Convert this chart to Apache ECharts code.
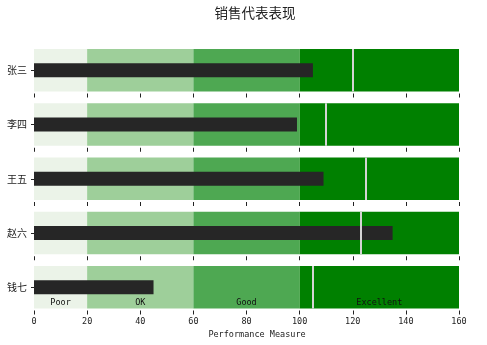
<!DOCTYPE html>
<html>
<head>
<meta charset="utf-8">
<script src="https://cdn.jsdelivr.net/npm/echarts@6/dist/echarts.min.js"></script>
<style>
  html, body { margin: 0; padding: 0; background: #fff; }
  #chart { width: 487px; height: 345px; }
</style>
</head>
<body>
<div id="chart"></div>
<script>
// Sales reps, their measured performance and their targets
const reps = ['张三', '李四', '王五', '赵六', '钱七'];
const actual = [105, 99, 109, 135, 45];
const target = [120, 110, 125, 123, 105];

// Qualitative bands shared by every row
const bandNames = ['Poor', 'OK', 'Good', 'Excellent'];
const bandEdges = [0, 20, 60, 100, 160];
const bandColors = ['#ebf3e8', '#9ecf9a', '#4ea852', '#008000'];

const xTicks = { min: 0, max: 160, interval: 20 };

const chart = echarts.init(document.getElementById('chart'), null, { renderer: 'canvas' });

const monoFont = '"DejaVu Sans Mono", monospace';
const cjkFont = '"Noto Sans CJK SC", sans-serif';

const rowTop0 = 49, rowStep = 54.25, rowHeight = 42.5;
const last = reps.length - 1;

const grids = [], xAxes = [], yAxes = [], series = [];

reps.forEach((name, i) => {
  grids.push({ left: 34, right: 28, top: rowTop0 + i * rowStep, height: rowHeight });

  xAxes.push({
    type: 'value', gridIndex: i,
    min: xTicks.min, max: xTicks.max, interval: xTicks.interval,
    offset: 2,
    axisLine: { show: false },
    axisTick: { show: true, length: 4, lineStyle: { color: '#222', width: 1 } },
    splitLine: { show: false },
    axisLabel: { show: i === last, color: '#222', fontFamily: monoFont, fontSize: 8.5, margin: 7 },
    name: i === last ? 'Performance Measure' : '',
    nameLocation: 'middle', nameGap: 20,
    nameTextStyle: { color: '#222', fontFamily: monoFont, fontSize: 8.5, padding: [0, 0, 0, 21] }
  });

  yAxes.push({
    type: 'category', gridIndex: i, data: [name],
    axisLine: { show: false },
    axisTick: { show: true, alignWithLabel: true, length: 3, lineStyle: { color: '#222' } },
    axisLabel: { color: '#222', fontFamily: cjkFont, fontSize: 10, margin: 7 }
  });

  const bands = bandNames.map((b, k) => [
    {
      xAxis: bandEdges[k],
      itemStyle: { color: bandColors[k] },
      label: {
        show: i === last, formatter: b, position: 'insideBottom', distance: 1,
        color: '#111', fontFamily: monoFont, fontSize: 8.5
      }
    },
    { xAxis: bandEdges[k + 1] }
  ]);

  series.push({
    type: 'bar', xAxisIndex: i, yAxisIndex: i,
    data: [actual[i]], barWidth: 14,
    itemStyle: { color: '#262626' },
    silent: true,
    markArea: { silent: true, data: bands },
    markLine: {
      silent: true, symbol: 'none',
      label: { show: false },
      lineStyle: { color: '#d4d4d4', width: 2, type: 'solid' },
      data: [{ xAxis: target[i] }]
    }
  });
});

chart.setOption({
  animation: false,
  backgroundColor: '#fff',
  title: {
    text: '销售代表表现', left: 250, top: 1, textAlign: 'center',
    textStyle: { fontFamily: cjkFont, fontSize: 13.5, fontWeight: 'normal', color: '#222' }
  },
  grid: grids,
  xAxis: xAxes,
  yAxis: yAxes,
  series: series
});
</script>
</body>
</html>
